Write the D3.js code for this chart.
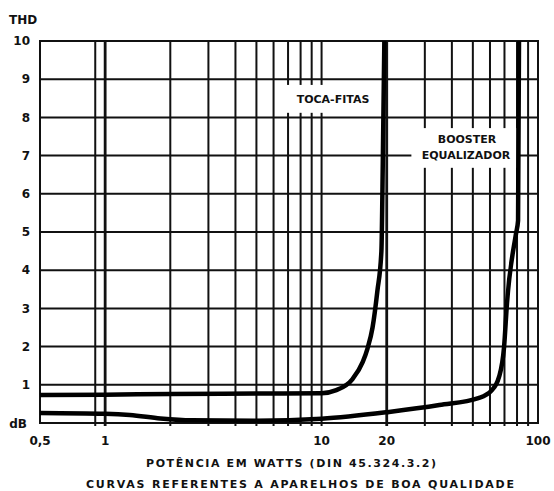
<!DOCTYPE html>
<html>
<head>
<meta charset="utf-8">
<script src="https://cdn.jsdelivr.net/npm/d3@7"></script>
<style>
  body { margin: 0; background: #fff; }
  text { font-family: "DejaVu Sans", sans-serif; font-weight: bold; fill: #111; }
</style>
</head>
<body>
<svg id="chart" width="554" height="491"></svg>
<script>
// THD scale (vertical) and power grid (horizontal, log)
const thdTicks = [0, 1, 2, 3, 4, 5, 6, 7, 8, 9, 10];
const thdLabels = ['dB', '1', '2', '3', '4', '5', '6', '7', '8', '9', '10'];
const powerGrid = [0.9, 1, 2, 3, 4, 5, 6, 7, 8, 9, 10, 20, 30, 40, 50, 60, 70, 80, 90];
const powerLabels = [0.5, 1, 10, 20, 100];

// Toca-fitas curve
const tocaPower = [0.5, 1, 2, 5, 10, 11.7, 13.9, 15.5, 16.3, 17.2, 18.1, 18.9, 19.2, 19.5];
const tocaThd = [0.73, 0.74, 0.76, 0.77, 0.78, 0.86, 1.15, 1.6, 1.95, 2.5, 3.45, 4.5, 7, 10];

// Booster / equalizador curve
const boosterPower = [0.5, 1, 1.3, 1.8, 2.5, 5, 10, 20.5, 35, 53, 61, 66, 69.7, 71.9, 79.2, 80.9, 81.7];
const boosterThd = [0.26, 0.24, 0.21, 0.12, 0.07, 0.06, 0.11, 0.29, 0.47, 0.65, 0.85, 1.2, 1.99, 3.14, 4.97, 5.3, 10];

const svg = d3.select('#chart');
const margin = { left: 40, top: 41, right: 16, bottom: 68 };
const width = 554 - margin.left - margin.right;
const height = 491 - margin.top - margin.bottom;

const x = d3.scaleLog().domain([0.5, 100]).range([0, width]);
const y = d3.scaleLinear().domain([0, 10]).range([height, 0]);

const g = svg.append('g')
  .attr('transform', `translate(${margin.left},${margin.top})`);

// grid
g.selectAll('.hgrid')
  .data(thdTicks)
  .enter().append('line')
  .attr('class', 'hgrid')
  .attr('x1', 0).attr('x2', width)
  .attr('y1', d => y(d)).attr('y2', d => y(d))
  .attr('stroke', '#111')
  .attr('stroke-width', 2);

g.selectAll('.vgrid')
  .data(powerGrid)
  .enter().append('line')
  .attr('class', 'vgrid')
  .attr('x1', d => x(d)).attr('x2', d => x(d))
  .attr('y1', 0).attr('y2', height + 3)
  .attr('stroke', '#111')
  .attr('stroke-width', d => (d === 1 || d === 20 ? 2.8 : 2));

g.append('rect')
  .attr('x', 0).attr('y', 0)
  .attr('width', width).attr('height', height)
  .attr('fill', 'none')
  .attr('stroke', '#111')
  .attr('stroke-width', 2);

// white label boxes hide the grid behind the captions
const labelBoxes = [
  { p0: 6.4, p1: 18.6, t0: 8.12, t1: 8.85 },
  { p0: 26, p1: 79.5, t0: 6.68, t1: 7.72 },
];
g.selectAll('.labelBox')
  .data(labelBoxes)
  .enter().append('rect')
  .attr('class', 'labelBox')
  .attr('x', d => x(d.p0))
  .attr('y', d => y(d.t1))
  .attr('width', d => x(d.p1) - x(d.p0))
  .attr('height', d => y(d.t0) - y(d.t1))
  .attr('fill', '#fff');

// curves
const line = d3.line()
  .x(d => x(d[0]))
  .y(d => y(d[1]))
  .curve(d3.curveMonotoneX);

const series = [
  d3.zip(tocaPower, tocaThd),
  d3.zip(boosterPower, boosterThd),
];
g.selectAll('.curve')
  .data(series)
  .enter().append('path')
  .attr('class', 'curve')
  .attr('d', line)
  .attr('fill', 'none')
  .attr('stroke', '#000')
  .attr('stroke-width', 4.5)
  .attr('stroke-linejoin', 'round');

// curve captions
g.append('text')
  .attr('x', 293)
  .attr('y', y(8.48))
  .attr('dy', '0.35em')
  .attr('text-anchor', 'middle')
  .style('font-size', '11px')
  .text('TOCA-FITAS');

g.append('text')
  .attr('x', 427)
  .attr('y', y(7.43))
  .attr('dy', '0.35em')
  .attr('text-anchor', 'middle')
  .style('font-size', '11px')
  .text('BOOSTER');

g.append('text')
  .attr('x', 426)
  .attr('y', y(7))
  .attr('dy', '0.35em')
  .attr('text-anchor', 'middle')
  .style('font-size', '11px')
  .text('EQUALIZADOR');

// y labels
g.selectAll('.ylab')
  .data(thdTicks)
  .enter().append('text')
  .attr('class', 'ylab')
  .attr('x', d => (d === 0 ? -13 : -10))
  .attr('y', d => y(d) + (d === 0 ? 1 : 0))
  .attr('dy', '0.35em')
  .attr('text-anchor', 'end')
  .style('font-size', '12px')
  .text((d, i) => thdLabels[i]);

svg.append('text')
  .attr('x', 9)
  .attr('y', 20)
  .attr('dy', '0.35em')
  .style('font-size', '12px')
  .text('THD');

// x labels
g.selectAll('.xlab')
  .data(powerLabels)
  .enter().append('text')
  .attr('class', 'xlab')
  .attr('x', d => x(d))
  .attr('y', height + 18)
  .attr('dy', '0.35em')
  .attr('text-anchor', 'middle')
  .style('font-size', '12px')
  .text(d => String(d).replace('.', ','));

// titles
svg.append('text')
  .attr('x', 291)
  .attr('y', 463)
  .attr('dy', '0.35em')
  .attr('text-anchor', 'middle')
  .attr('textLength', 290)
  .attr('lengthAdjust', 'spacing')
  .style('font-size', '11px')
  .text('POTÊNCIA EM WATTS (DIN 45.324.3.2)');

svg.append('text')
  .attr('x', 300)
  .attr('y', 484)
  .attr('dy', '0.35em')
  .attr('text-anchor', 'middle')
  .attr('textLength', 428)
  .attr('lengthAdjust', 'spacing')
  .style('font-size', '11px')
  .text('CURVAS REFERENTES A APARELHOS DE BOA QUALIDADE');
</script>
</body>
</html>
